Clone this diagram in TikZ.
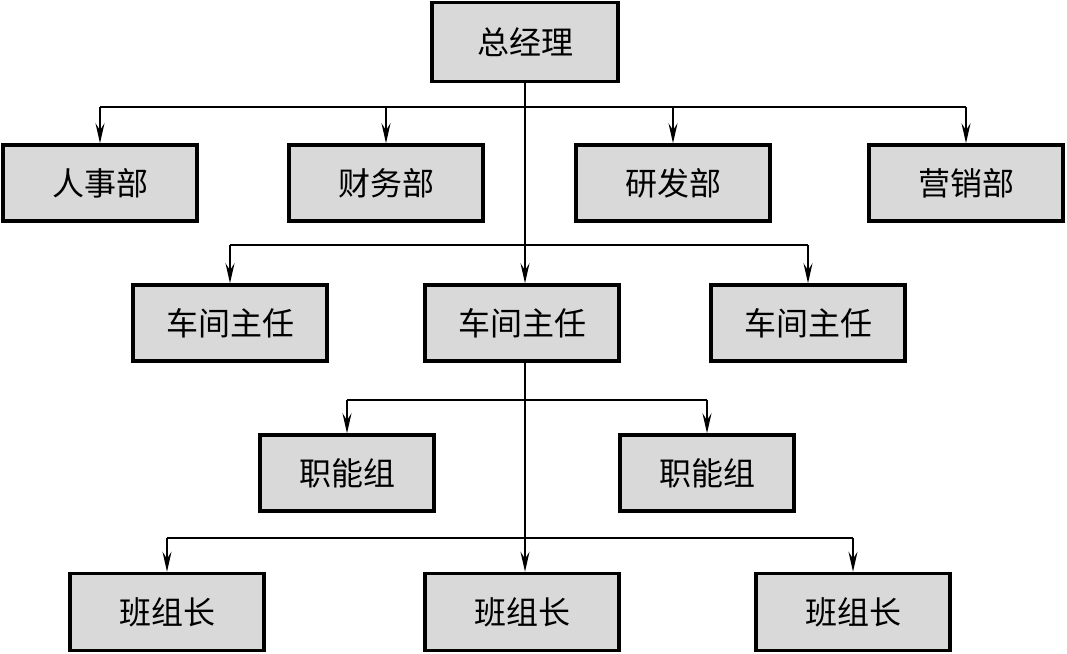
\documentclass[tikz,border=0pt]{standalone}
\usepackage{fontspec}
\newfontfamily\cjk{Noto Sans CJK SC}
\usetikzlibrary{arrows.meta}
\tikzstyle{unit} = [rectangle, minimum width=194pt, minimum height=76pt, text centered, draw=black, line width=3.5pt, fill=black!15, font=\cjk\fontsize{32}{35}\selectfont]
\tikzstyle{line} = [line width=1.3pt]
\tikzstyle{arrow} = [line width=1.3pt, -{Stealth[length=20pt, width=9pt, inset=7pt]}]

\begin{document}
\begin{tikzpicture}[x=1pt, y=-1pt]
\useasboundingbox (0,0) rectangle (1067,653);

\node (zjl) [unit, minimum width=186pt, minimum height=79pt] at (525,42) {总经理};
\node (rs) [unit] at (100,183) {人事部};
\node (cw) [unit] at (386,183) {财务部};
\node (yf) [unit] at (673,183) {研发部};
\node (yx) [unit] at (966,183) {营销部};
\node (cj1) [unit] at (230,323) {车间主任};
\node (cj2) [unit] at (522,323) {车间主任};
\node (cj3) [unit] at (808,323) {车间主任};
\node (zn1) [unit, minimum width=174pt] at (347,473) {职能组};
\node (zn2) [unit, minimum width=174pt] at (707,473) {职能组};
\node (bz1) [unit, minimum height=77pt] at (167,612) {班组长};
\node (bz2) [unit, minimum height=77pt] at (522,612) {班组长};
\node (bz3) [unit, minimum height=77pt] at (853,612) {班组长};

\coordinate (bus1) at (525,107);
\coordinate (bus2) at (525,245);
\coordinate (bus3) at (525,400);
\coordinate (bus4) at (525,538);

% top level
\draw [arrow] (zjl.south -| bus1) -- (cj2.north -| bus1);
\draw [line] (rs.north |- bus1) -- (yx.north |- bus1);
\draw [arrow] (rs.north |- bus1) -- (rs.north);
\draw [arrow] (cw.north |- bus1) -- (cw.north);
\draw [arrow] (yf.north |- bus1) -- (yf.north);
\draw [arrow] (yx.north |- bus1) -- (yx.north);

% workshops
\draw [line] (cj1.north |- bus2) -- (cj3.north |- bus2);
\draw [arrow] (cj1.north |- bus2) -- (cj1.north);
\draw [arrow] (cj3.north |- bus2) -- (cj3.north);

% groups and teams
\draw [arrow] (cj2.south -| bus3) -- (bz2.north -| bus4);
\draw [line] (zn1.north |- bus3) -- (zn2.north |- bus3);
\draw [arrow] (zn1.north |- bus3) -- (zn1.north);
\draw [arrow] (zn2.north |- bus3) -- (zn2.north);
\draw [line] (bz1.north |- bus4) -- (bz3.north |- bus4);
\draw [arrow] (bz1.north |- bus4) -- (bz1.north);
\draw [arrow] (bz3.north |- bus4) -- (bz3.north);

\end{tikzpicture}
\end{document}
